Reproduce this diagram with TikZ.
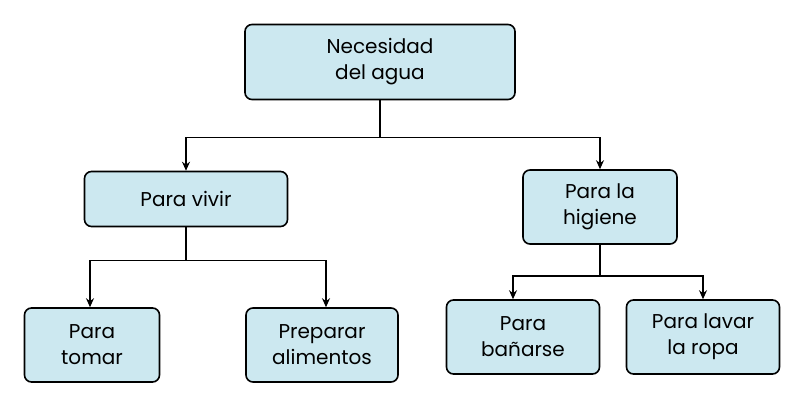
\documentclass[tikz,border=0pt]{standalone}
\usepackage{fontspec}
\setmainfont{Poppins}
\usetikzlibrary{positioning,arrows.meta}
\definecolor{boxfill}{RGB}{204,232,240}
\tikzset{
  box/.style={draw=black, line width=1.6pt, fill=boxfill, rounded corners=7pt,
    align=center, inner sep=0pt, font=\fontsize{20}{26}\selectfont},
  link/.style={line width=1.4pt, -{Stealth[length=9pt,width=8pt]}}
}
\begin{document}
\begin{tikzpicture}[x=1pt,y=-1pt]
  \useasboundingbox (0,0) rectangle (804,409);
  \node[box, minimum width=270pt, minimum height=75pt] (agua) at (380,62) {Necesidad\\del agua};
  \node[box, minimum width=203pt, minimum height=55pt] (vivir) at (186,199) {Para vivir};
  \node[box, minimum width=154pt, minimum height=74pt] (higiene) at (600,207) {Para la\\higiene};
  \node[box, minimum width=135pt, minimum height=74pt] (tomar) at (92,345) {Para\\tomar};
  \node[box, minimum width=152pt, minimum height=74pt] (alimentos) at (322,345) {Preparar\\alimentos};
  \node[box, minimum width=153pt, minimum height=74pt] (banarse) at (523,337) {Para\\bañarse};
  \node[box, minimum width=153pt, minimum height=74pt] (ropa) at (703,337) {Para lavar\\la ropa};
  % connectors
  \draw[link] (agua.south) -- ++(0,37) -| (vivir.north);
  \draw[link] (agua.south) -- ++(0,37) -| (higiene.north);
  \draw[link] (vivir.south) -- ++(0,33) -| ([xshift=-2pt]tomar.north);
  \draw[link] (vivir.south) -- ++(0,33) -| ([xshift=4pt]alimentos.north);
  \draw[link] (higiene.south) -- ++(0,31) -| ([xshift=-10pt]banarse.north);
  \draw[link] (higiene.south) -- ++(0,31) -| (ropa.north);
\end{tikzpicture}
\end{document}
